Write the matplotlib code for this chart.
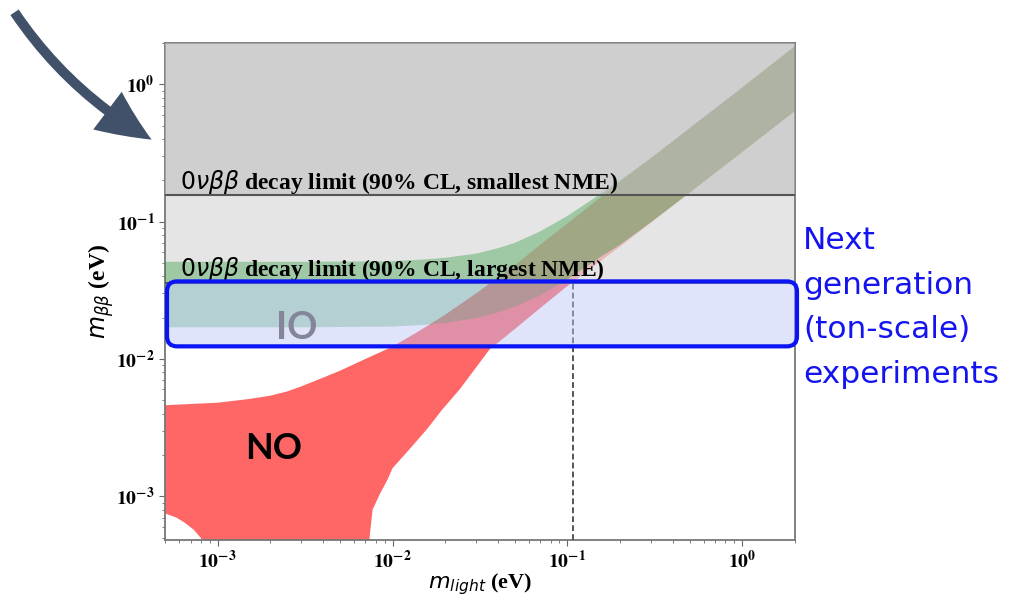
import numpy as np
import matplotlib
matplotlib.use("Agg")
import matplotlib.pyplot as plt
from matplotlib.patches import FancyBboxPatch, FancyArrowPatch
from matplotlib.ticker import LogLocator, NullFormatter

# values, all in eV
# normal ordering band (upper edge, then lower edge with the cancellation funnel)
no_upper_m = [5e-4, 1e-3, 1.5e-3, 2e-3, 2.5e-3, 3e-3, 4e-3, 5e-3, 7e-3, 1e-2, 1.4e-2, 2e-2, 3e-2,
              5e-2, 7e-2, 0.1, 0.2, 0.5, 1.0, 2.0]
no_upper_mbb = [0.0046, 0.0048, 0.0051, 0.0054, 0.0058, 0.0063, 0.0073, 0.0082, 0.0100, 0.0123,
                0.0158, 0.021, 0.030, 0.048, 0.068, 0.097, 0.195, 0.48, 0.95, 1.9]
no_lower_m = [5e-4, 5.8e-4, 6.5e-4, 7.3e-4, 8.2e-4, 8.8e-4, 9e-4, 7.2e-3, 7.4e-3, 7.69e-3, 8.5e-3,
              9.3e-3, 1.0e-2, 1.25e-2, 1.57e-2, 1.93e-2, 2.42e-2, 3.03e-2, 3.59e-2, 5e-2, 7e-2,
              0.1, 0.2, 0.5, 1.0, 2.0]
no_lower_mbb = [7.5e-4, 7.0e-4, 6.4e-4, 5.7e-4, 4.8e-4, 3.5e-4, 2e-4, 2e-4, 5.1e-4, 8.0e-4, 1.05e-3,
                1.3e-3, 1.6e-3, 2.2e-3, 3.07e-3, 4.3e-3, 6.0e-3, 8.8e-3, 1.175e-2, 0.0165, 0.0235,
                0.034, 0.066, 0.162, 0.322, 0.64]

# inverted ordering band
io_m = [5e-4, 1e-3, 3e-3, 1e-2, 1.5e-2, 2e-2, 3e-2, 4e-2, 5e-2, 7e-2, 0.1, 0.15, 0.2, 0.3, 0.5, 1.0, 2.0]
io_upper = [0.051, 0.051, 0.051, 0.0515, 0.053, 0.0545, 0.0585, 0.064, 0.070, 0.085, 0.11, 0.155,
            0.20, 0.29, 0.48, 0.95, 1.9]
io_lower = [0.0170, 0.0170, 0.0170, 0.0172, 0.0177, 0.0183, 0.0198, 0.0218, 0.024, 0.029, 0.038,
            0.054, 0.068, 0.099, 0.163, 0.322, 0.64]

limit_smallest_nme = 0.156
limit_largest_nme = 0.036
next_gen = [0.01235, 0.0367]
m_cosmo = 0.108

major_ticks = [1e-3, 1e-2, 1e-1, 1e0]
tick_labels = [r"$\mathbf{10^{-3}}$", r"$\mathbf{10^{-2}}$", r"$\mathbf{10^{-1}}$", r"$\mathbf{10^{0}}$"]

xmin, xmax = 5e-4, 2.0
ymin, ymax = 4.8e-4, 2.0

fig = plt.figure(figsize=(10.21, 6.0), dpi=100)
ax = fig.add_axes([165 / 1021, 60 / 600, 630 / 1021, 497 / 600])
ax.set_xscale("log")
ax.set_yscale("log")
ax.set_xlim(xmin, xmax)
ax.set_ylim(ymin, ymax)

# NO band, light grey limit over it, IO band, then the darker limit over everything
ax.fill(no_upper_m + no_lower_m[::-1], no_upper_mbb + no_lower_mbb[::-1],
        color="red", alpha=0.6, lw=0, zorder=1)
ax.axhspan(limit_largest_nme, 10, color=(0.855, 0.855, 0.855), alpha=0.7, lw=0, zorder=2)
ax.fill(io_m + io_m[::-1], io_upper + io_lower[::-1],
        color=(0.0, 0.52, 0.06), alpha=0.3, lw=0, zorder=3)
ax.axhspan(limit_smallest_nme, 10, color=(0.74, 0.74, 0.74), alpha=0.55, lw=0, zorder=3.5)

ax.axhline(limit_smallest_nme, color="#555555", lw=1.5, zorder=4)
ax.axhline(limit_largest_nme, color="#555555", lw=1.5, zorder=4)
ax.plot([m_cosmo, m_cosmo], [ymin, limit_largest_nme], ls=(0, (3, 1.6)), color="#555555",
        lw=1.4, zorder=4)

txt_kw = dict(family="Liberation Serif", weight="bold", fontsize=17, va="baseline", zorder=5)
ax.text(6.07e-4, 0.174, r"$0\nu\beta\beta$ decay limit (90% CL, smallest NME)", **txt_kw)
ax.text(6.07e-4, 0.040, r"$0\nu\beta\beta$ decay limit (90% CL, largest NME)", **txt_kw)

ax.text(2.09e-3, 2.23e-3, "NO", family="Lato", weight="bold", fontsize=26, color="black",
        ha="center", va="center", zorder=6)

# axes styling
ax.set_xticks(major_ticks)
ax.set_xticklabels(tick_labels, fontsize=14, math_fontfamily="stix")
ax.set_yticks(major_ticks)
ax.set_yticklabels(tick_labels, fontsize=14, math_fontfamily="stix")
for axis in (ax.xaxis, ax.yaxis):
    axis.set_minor_locator(LogLocator(base=10, subs=np.arange(2, 10), numticks=20))
    axis.set_minor_formatter(NullFormatter())
ax.tick_params(which="both", color="#666666")
ax.tick_params(which="major", length=4)
ax.tick_params(which="minor", length=2.5)
for s in ax.spines.values():
    s.set_color("#777777")
    s.set_linewidth(1.3)

ax.set_xlabel(r"$m_{light}$ (eV)", family="Liberation Serif", weight="bold", fontsize=16, labelpad=-1)
ax.set_ylabel(r"$m_{\beta\beta}$ (eV)", family="Liberation Serif", weight="bold", fontsize=17, labelpad=0)

# next generation box, in pixel coordinates
fig.canvas.draw()
(bx0, by0), (bx1, by1) = ax.transData.transform([(xmin, next_gen[0]), (xmax, next_gen[1])])
box = FancyBboxPatch((bx0 + 2, by0), bx1 - bx0, by1 - by0,
                     boxstyle="round,pad=0,rounding_size=10",
                     facecolor=(184 / 255, 196 / 255, 247 / 255, 0.45),
                     edgecolor="#0a14f5", lw=3, transform=None, zorder=10)
fig.add_artist(box)

# IO label sits on top of the box
fig.text(2.83e-3, 0.0167, "IO", transform=ax.transData, family="Lato", weight="bold",
         fontsize=27, color="#85859a", ha="center", va="center", zorder=11)

fig.text(803 / 1021, 1 - 226 / 600, "Next\ngeneration\n(ton-scale)\nexperiments",
         color="#1414f0", fontsize=22.5, va="top", ha="left", linespacing=1.68)

# arrow at the top left
arrow = FancyArrowPatch((13 / 1021, 1 - 10 / 600), (154 / 1021, 1 - 141 / 600),
                        transform=fig.transFigure,
                        connectionstyle="arc3,rad=0.12",
                        arrowstyle="simple,head_length=0.95,head_width=0.85,tail_width=0.18",
                        mutation_scale=40, color="#415169", lw=0)
fig.add_artist(arrow)

fig.savefig("out.png", dpi=100)
